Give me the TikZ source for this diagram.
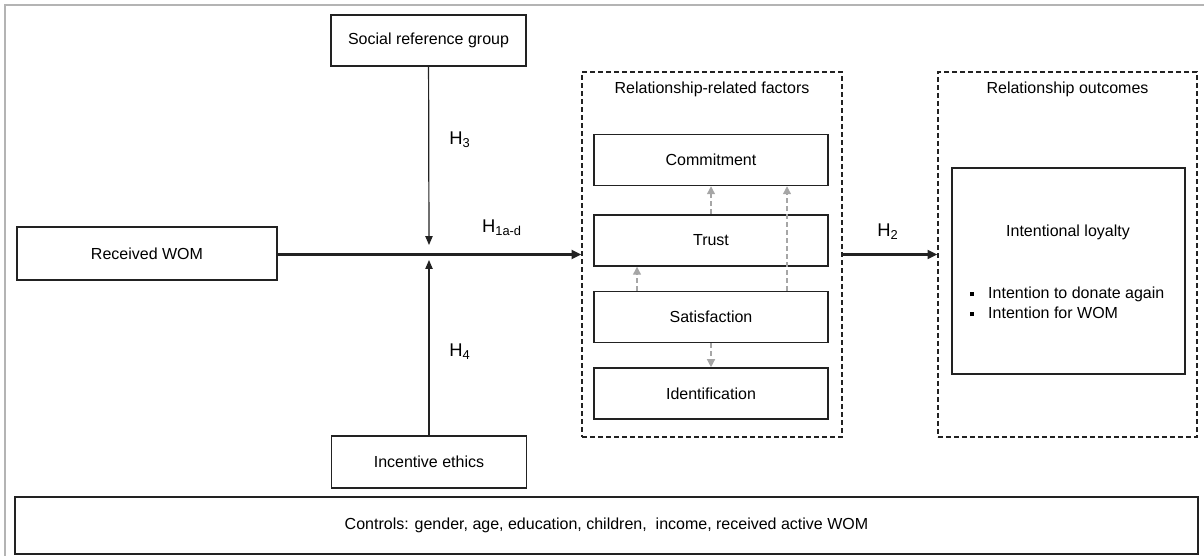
\documentclass[tikz,border=0pt]{standalone}
\usepackage{fontspec}
\setmainfont{Liberation Sans}
\usetikzlibrary{arrows.meta, positioning}
\definecolor{framegray}{HTML}{B4B4B4}
\definecolor{feedgray}{HTML}{A6A6A6}
\definecolor{inkgray}{HTML}{222222}

\begin{document}
\begin{tikzpicture}[
    x=0.625pt, y=-0.625pt,
    node distance=15pt,
    box/.style={draw=inkgray, line width=0.9pt, minimum width=121.9pt, minimum height=31.9pt, font=\fontsize{10}{12}\selectfont},
    factor/.style={box, minimum width=146.25pt},
    groupbox/.style={draw=inkgray, line width=0.9pt, dash pattern=on 3pt off 2pt, minimum width=162.5pt, minimum height=228.1pt},
    hyp/.style={font=\fontsize{11.5}{13}\selectfont},
    link/.style={draw=inkgray, line width=1.9pt, -{Triangle[length=6pt, width=5.5pt]}},
    moderate/.style={draw=inkgray, line width=0.75pt, -{Triangle[length=5.5pt, width=4.5pt]}},
    feed/.style={draw=feedgray, line width=0.8pt, dash pattern=on 3pt off 2pt, -{Triangle[length=5pt, width=5pt]}}
]
    \useasboundingbox (0,0) rectangle (1204,556);

    % Outer frame (cut off right and bottom)
    \draw[framegray, line width=1.2pt] (5,556) -- (5,5) -- (1204,5);

    % Left side: WOM and moderators
    \node[box, minimum width=162.5pt, minimum height=33.1pt] (wom) at (147,253.5) {Received WOM};
    \node[box] (social) at (428.5,40.5) {Social reference group};
    \node[box, minimum height=32.5pt] (ethics) at (429,462) {Incentive ethics};
    \coordinate (jointop) at (429,245);
    \coordinate (joinbot) at (429,260);

    % Relationship-related factors
    \node[groupbox] (factors) at (712,254.5) {};
    \node[font=\fontsize{10}{12}\selectfont] at (712,89) {Relationship-related factors};
    \node[factor] (commit) at (711,160) {Commitment};
    \node[factor, below=17.5pt of commit] (trust) {Trust};
    \node[factor, below=of trust] (satis) {Satisfaction};
    \node[factor, below=of satis] (ident) {Identification};

    % Relationship outcomes
    \node[groupbox, minimum width=161.9pt] (outcomes) at (1067.5,254.5) {};
    \node[font=\fontsize{10}{12}\selectfont] at (1067.5,89) {Relationship outcomes};
    \node[box, minimum width=145.6pt, minimum height=128.75pt] (loyalty) at (1068.5,271) {};
    \node[font=\fontsize{10}{12}\selectfont] (loyaltitle) at (1068,232) {Intentional loyalty};
    \node[font=\fontsize{10}{12.5}\selectfont, align=left, anchor=west] (loyalitems) at (964,303)
        {\rule[0.3ex]{2.6pt}{2.6pt}\hspace{9pt}Intention to donate again\\
         \rule[0.3ex]{2.6pt}{2.6pt}\hspace{9pt}Intention for WOM};

    % Controls
    \node[box, minimum width=739.4pt, minimum height=35.6pt] (controls) at (606.5,525.5)
        {Controls: gender, age, education, children,\ \ income, received active WOM};

    % Hypotheses
    \draw[link] (wom.east |- factors.west) -- (factors.west);
    \draw[link] (factors) -- (outcomes);
    \draw[moderate] (social) -- (jointop);
    \draw[moderate] (ethics) -- (joinbot);
    \node[hyp] at (460,140) {H\textsubscript{3}};
    \node[hyp] at (460,352) {H\textsubscript{4}};
    \node[hyp] at (502,228) {H\textsubscript{1a-d}};
    \node[hyp] at (888,232) {H\textsubscript{2}};

    % Links among factors
    \draw[feed] (trust) -- (commit);
    \draw[feed] ([xshift=-46.25pt]satis.north) -- ([xshift=-46.25pt]trust.south);
    \draw[feed] ([xshift=47.5pt]satis.north) -- ([xshift=47.5pt]commit.south);
    \draw[feed] (satis) -- (ident);
\end{tikzpicture}
\end{document}
